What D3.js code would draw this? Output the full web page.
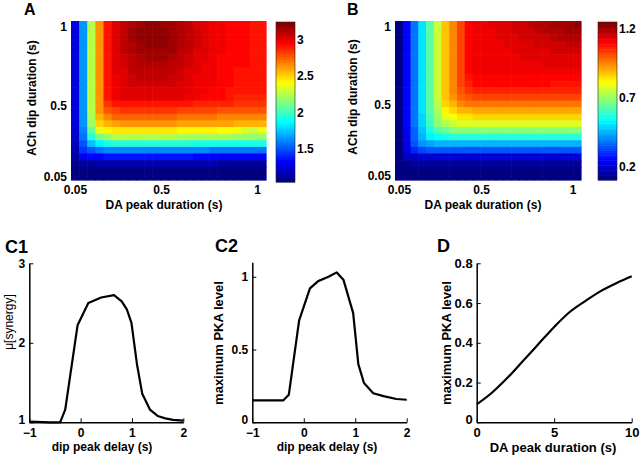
<!DOCTYPE html>
<html>
<head>
<meta charset="utf-8">
<script src="https://cdn.jsdelivr.net/npm/d3@7"></script>
<style>
  body { margin: 0; background: #fff; }
  svg { display: block; font-family: "Liberation Sans", Arial, sans-serif; font-weight: bold; }
</style>
</head>
<body>
<script>
// heatmap rows: top row = ACh dip 1 s, bottom row = 0.05 s; columns: DA peak 0.05 s .. 1 s
const gridTicks = [0.05, 0.5, 1];

const synergyGrid = [
  [1.25,1.65,2.25,2.65,2.9,3.02,3.07,3.13,3.16,3.18,3.18,3.17,3.14,3.11,3.07,3.03,3.01,2.99,2.97,2.96,2.94,2.94,2.93,2.93],
  [1.25,1.65,2.25,2.65,2.9,3.02,3.08,3.14,3.18,3.2,3.2,3.19,3.16,3.12,3.08,3.04,3.01,2.99,2.97,2.96,2.94,2.94,2.93,2.93],
  [1.25,1.65,2.25,2.65,2.9,3.02,3.08,3.14,3.18,3.2,3.2,3.19,3.16,3.12,3.08,3.04,3.01,2.99,2.97,2.96,2.94,2.94,2.93,2.93],
  [1.25,1.65,2.25,2.65,2.9,3.02,3.08,3.13,3.17,3.19,3.19,3.18,3.15,3.11,3.08,3.04,3.01,2.99,2.97,2.96,2.94,2.94,2.93,2.93],
  [1.25,1.65,2.25,2.65,2.9,3.01,3.07,3.12,3.15,3.17,3.17,3.16,3.14,3.1,3.07,3.03,3.0,2.99,2.97,2.96,2.94,2.94,2.93,2.93],
  [1.25,1.65,2.25,2.65,2.9,3.01,3.06,3.1,3.13,3.14,3.14,3.14,3.12,3.08,3.05,3.02,3.0,2.98,2.96,2.96,2.94,2.94,2.93,2.93],
  [1.25,1.65,2.25,2.65,2.9,3.0,3.04,3.08,3.11,3.12,3.12,3.11,3.1,3.07,3.04,3.01,2.99,2.98,2.96,2.96,2.94,2.94,2.93,2.93],
  [1.25,1.65,2.25,2.65,2.9,3.0,3.03,3.07,3.09,3.1,3.1,3.09,3.08,3.05,3.03,3.0,2.98,2.97,2.96,2.95,2.92,2.92,2.92,2.92],
  [1.25,1.65,2.25,2.65,2.9,2.99,3.02,3.05,3.07,3.07,3.07,3.07,3.06,3.04,3.02,2.99,2.98,2.97,2.96,2.95,2.92,2.92,2.92,2.92],
  [1.25,1.65,2.25,2.65,2.9,2.99,3.01,3.04,3.05,3.05,3.05,3.05,3.04,3.02,3.01,2.99,2.97,2.97,2.96,2.94,2.92,2.92,2.92,2.92],
  [1.25,1.65,2.25,2.65,2.9,2.99,3.0,3.02,3.03,3.03,3.03,3.03,3.02,3.01,3.0,2.98,2.97,2.96,2.95,2.93,2.9,2.9,2.9,2.9],
  [1.25,1.65,2.25,2.65,2.9,2.98,3.0,3.01,3.01,3.02,3.02,3.02,3.01,3.0,2.99,2.98,2.96,2.96,2.95,2.92,2.88,2.88,2.88,2.88],
  [1.25,1.65,2.25,2.65,2.85,2.9,2.91,2.92,2.92,2.92,2.92,2.92,2.91,2.9,2.9,2.89,2.88,2.88,2.87,2.87,2.86,2.86,2.85,2.85],
  [1.25,1.65,2.25,2.63,2.78,2.82,2.83,2.84,2.84,2.84,2.84,2.84,2.83,2.82,2.82,2.81,2.8,2.8,2.79,2.79,2.78,2.78,2.78,2.78],
  [1.25,1.65,2.24,2.58,2.69,2.73,2.74,2.74,2.74,2.74,2.74,2.74,2.73,2.72,2.72,2.71,2.7,2.7,2.69,2.69,2.68,2.68,2.68,2.68],
  [1.25,1.64,2.2,2.5,2.58,2.62,2.64,2.64,2.64,2.64,2.64,2.63,2.63,2.62,2.62,2.61,2.6,2.6,2.59,2.59,2.58,2.58,2.58,2.58],
  [1.24,1.62,2.1,2.35,2.42,2.45,2.46,2.46,2.46,2.46,2.46,2.45,2.45,2.44,2.44,2.43,2.42,2.42,2.41,2.41,2.4,2.32,2.3,2.38],
  [1.23,1.58,1.95,2.12,2.2,2.25,2.26,2.26,2.26,2.26,2.26,2.25,2.25,2.24,2.24,2.23,2.22,2.22,2.21,2.21,2.2,2.2,2.18,2.2],
  [1.2,1.5,1.75,1.85,1.9,1.95,1.96,1.96,1.96,1.96,1.96,1.95,1.95,1.94,1.94,1.93,1.92,1.92,1.91,1.91,1.9,1.9,1.9,1.9],
  [1.17,1.42,1.52,1.57,1.59,1.6,1.61,1.61,1.61,1.61,1.61,1.6,1.6,1.6,1.6,1.59,1.59,1.58,1.58,1.58,1.57,1.57,1.57,1.57],
  [1.13,1.3,1.33,1.34,1.35,1.35,1.36,1.36,1.36,1.36,1.36,1.35,1.35,1.35,1.35,1.34,1.34,1.34,1.34,1.33,1.33,1.33,1.33,1.33],
  [1.08,1.13,1.14,1.15,1.15,1.15,1.16,1.16,1.16,1.16,1.16,1.15,1.15,1.15,1.15,1.15,1.15,1.15,1.14,1.14,1.14,1.14,1.14,1.14],
  [1.04,1.06,1.06,1.06,1.06,1.06,1.07,1.07,1.07,1.07,1.07,1.06,1.06,1.06,1.06,1.06,1.06,1.06,1.06,1.06,1.06,1.06,1.06,1.06],
  [1.03,1.04,1.04,1.04,1.04,1.04,1.04,1.04,1.04,1.04,1.04,1.04,1.04,1.04,1.04,1.04,1.04,1.04,1.04,1.04,1.04,1.04,1.04,1.04]
];

const pkaGrid = [
  [0.12,0.25,0.39,0.5,0.64,0.75,0.89,0.96,1.03,1.09,1.12,1.12,1.13,1.13,1.14,1.15,1.16,1.17,1.18,1.19,1.2,1.2,1.21,1.22],
  [0.12,0.25,0.39,0.5,0.64,0.75,0.89,0.96,1.03,1.09,1.12,1.12,1.12,1.13,1.14,1.15,1.15,1.16,1.17,1.18,1.18,1.19,1.2,1.2],
  [0.12,0.25,0.39,0.5,0.64,0.75,0.89,0.96,1.03,1.09,1.11,1.12,1.12,1.13,1.13,1.14,1.15,1.15,1.16,1.16,1.17,1.18,1.18,1.19],
  [0.12,0.25,0.39,0.5,0.64,0.75,0.89,0.96,1.03,1.09,1.11,1.12,1.12,1.12,1.13,1.13,1.14,1.14,1.15,1.15,1.16,1.16,1.17,1.17],
  [0.12,0.25,0.39,0.5,0.64,0.75,0.89,0.96,1.03,1.09,1.11,1.11,1.12,1.12,1.12,1.13,1.13,1.14,1.14,1.14,1.15,1.15,1.15,1.16],
  [0.12,0.25,0.39,0.5,0.64,0.75,0.89,0.96,1.03,1.09,1.11,1.11,1.11,1.12,1.12,1.12,1.13,1.13,1.13,1.13,1.14,1.14,1.14,1.14],
  [0.12,0.25,0.39,0.5,0.64,0.75,0.89,0.96,1.03,1.09,1.11,1.11,1.11,1.11,1.12,1.12,1.12,1.12,1.12,1.13,1.13,1.13,1.13,1.13],
  [0.12,0.25,0.39,0.5,0.64,0.75,0.89,0.96,1.03,1.09,1.11,1.11,1.11,1.11,1.11,1.11,1.12,1.12,1.12,1.12,1.12,1.12,1.12,1.12],
  [0.12,0.25,0.39,0.5,0.64,0.75,0.89,0.96,1.03,1.08,1.1,1.1,1.1,1.1,1.1,1.1,1.1,1.1,1.1,1.1,1.1,1.1,1.1,1.1],
  [0.12,0.25,0.39,0.5,0.64,0.75,0.89,0.96,1.02,1.06,1.09,1.09,1.09,1.09,1.09,1.09,1.09,1.09,1.09,1.09,1.08,1.08,1.08,1.08],
  [0.12,0.25,0.39,0.5,0.64,0.75,0.89,0.95,1.01,1.04,1.07,1.07,1.07,1.07,1.07,1.07,1.07,1.07,1.07,1.07,1.07,1.07,1.07,1.07],
  [0.12,0.25,0.39,0.5,0.64,0.75,0.88,0.94,0.99,1.01,1.03,1.03,1.03,1.03,1.03,1.03,1.03,1.03,1.03,1.03,1.03,1.03,1.03,1.03],
  [0.12,0.25,0.39,0.5,0.63,0.74,0.86,0.91,0.95,0.97,0.98,0.98,0.98,0.98,0.98,0.98,0.98,0.98,0.98,0.98,0.98,0.98,0.98,0.98],
  [0.12,0.25,0.39,0.5,0.63,0.73,0.83,0.87,0.9,0.91,0.92,0.92,0.92,0.92,0.92,0.92,0.92,0.92,0.92,0.92,0.92,0.92,0.92,0.92],
  [0.12,0.25,0.38,0.49,0.62,0.71,0.79,0.82,0.84,0.85,0.86,0.86,0.86,0.86,0.86,0.86,0.86,0.86,0.86,0.86,0.86,0.86,0.86,0.86],
  [0.12,0.25,0.38,0.49,0.6,0.68,0.73,0.75,0.77,0.78,0.78,0.78,0.78,0.78,0.78,0.78,0.78,0.78,0.78,0.78,0.78,0.78,0.78,0.78],
  [0.12,0.24,0.37,0.47,0.57,0.63,0.66,0.68,0.69,0.69,0.69,0.69,0.69,0.69,0.69,0.69,0.69,0.69,0.69,0.69,0.69,0.69,0.69,0.69],
  [0.12,0.24,0.36,0.45,0.52,0.55,0.57,0.58,0.58,0.58,0.58,0.58,0.58,0.58,0.58,0.58,0.58,0.58,0.58,0.58,0.58,0.58,0.58,0.58],
  [0.12,0.23,0.34,0.41,0.44,0.45,0.46,0.46,0.46,0.46,0.46,0.46,0.46,0.46,0.46,0.46,0.46,0.46,0.46,0.46,0.46,0.46,0.46,0.46],
  [0.12,0.22,0.3,0.33,0.34,0.35,0.35,0.35,0.35,0.35,0.35,0.35,0.35,0.35,0.35,0.35,0.35,0.35,0.35,0.35,0.35,0.35,0.35,0.35],
  [0.11,0.18,0.19,0.2,0.2,0.2,0.2,0.2,0.2,0.2,0.2,0.2,0.2,0.2,0.2,0.2,0.2,0.2,0.2,0.2,0.2,0.2,0.2,0.2],
  [0.11,0.14,0.15,0.15,0.15,0.15,0.15,0.15,0.15,0.15,0.15,0.15,0.15,0.15,0.15,0.15,0.15,0.15,0.15,0.15,0.15,0.15,0.15,0.15],
  [0.11,0.12,0.12,0.12,0.12,0.12,0.12,0.12,0.12,0.12,0.12,0.12,0.12,0.12,0.12,0.12,0.12,0.12,0.12,0.12,0.12,0.12,0.12,0.12],
  [0.11,0.11,0.11,0.11,0.11,0.11,0.11,0.11,0.11,0.11,0.11,0.11,0.11,0.11,0.11,0.11,0.11,0.11,0.11,0.11,0.11,0.11,0.11,0.11]
];

const synergyBarTicks = [1.5, 2, 2.5, 3];
const pkaBarTicks = [0.2, 0.7, 1.2];

const synergyDelays = [-1, -0.6, -0.4, -0.3, -0.06, 0.15, 0.4, 0.65, 0.8, 0.9, 0.99, 1.1, 1.2, 1.35, 1.5, 1.65, 1.8, 2];
const synergyByDelay = [1.01, 1.0, 1.0, 1.16, 2.22, 2.5, 2.57, 2.6, 2.52, 2.42, 2.25, 1.72, 1.36, 1.16, 1.08, 1.05, 1.03, 1.02];

const pkaDelays = [-1, -0.4, -0.29, -0.09, 0.12, 0.28, 0.48, 0.64, 0.77, 0.96, 1.06, 1.17, 1.35, 1.55, 1.8, 2];
const pkaByDelay = [0.15, 0.15, 0.19, 0.7, 0.92, 0.97, 1.0, 1.03, 0.98, 0.75, 0.4, 0.27, 0.2, 0.18, 0.16, 0.155];

const peakDurations = [0, 1, 2, 3, 4, 5, 6, 7, 8, 9, 10];
const pkaByDuration = [0.09, 0.15, 0.225, 0.31, 0.395, 0.48, 0.555, 0.61, 0.66, 0.70, 0.735];

function jet(t) {
  t = Math.min(63, Math.max(0, Math.floor(t * 64))) / 63;
  const c = v => Math.round(255 * Math.max(0, Math.min(1, v)));
  return `rgb(${c(Math.min(4 * t - 1.5, -4 * t + 4.5))},${c(Math.min(4 * t - 0.5, -4 * t + 3.5))},${c(Math.min(4 * t + 0.5, -4 * t + 2.5))})`;
}

const svg = d3.select('body')
  .append('svg')
  .attr('width', 640)
  .attr('height', 458);

function styleAxis(g, size) {
  g.attr('font-family', null).attr('font-size', size);
  g.selectAll('text').attr('fill', '#000');
  g.selectAll('line').attr('stroke', '#000');
  g.select('.domain').attr('stroke', '#000');
}

function createHeatmap(grid, box, tickX, tickY, bar) {
  let color = d3.scaleSequential(jet).domain(bar.domain).clamp(true);
  let n = grid.length;
  let x = d3.scaleBand().domain(d3.range(n)).range([box.x0, box.x1]);
  let y = d3.scaleBand().domain(d3.range(n)).range([box.y1, box.y0]);

  let cells = [];
  grid.forEach((row, r) => row.forEach((v, c) => cells.push({ c: c, r: n - 1 - r, v: v })));

  svg.append('g')
    .selectAll('rect')
    .data(cells)
    .join('rect')
    .attr('x', d => x(d.c))
    .attr('y', d => y(d.r))
    .attr('width', x.bandwidth() + 0.6)
    .attr('height', y.bandwidth() + 0.6)
    .attr('fill', d => color(d.v));

  let xt = d3.scaleLinear().domain([0.05, 1]).range(tickX);
  let yt = d3.scaleLinear().domain([0.05, 1]).range(tickY);

  svg.append('g')
    .attr('transform', `translate(0,${box.y1})`)
    .call(d3.axisBottom(xt).tickValues(gridTicks).tickFormat(d3.format('')).tickSize(0).tickPadding(5))
    .call(g => g.select('.domain').remove())
    .call(g => styleAxis(g, 12));

  svg.append('g')
    .attr('transform', `translate(${box.x0},0)`)
    .call(d3.axisLeft(yt).tickValues(gridTicks).tickFormat(d3.format('')).tickSize(0).tickPadding(4))
    .call(g => g.select('.domain').remove())
    .call(g => styleAxis(g, 12));

  // colorbar
  let b = d3.scaleLinear().domain(bar.domain).range([bar.y1, bar.y0]);
  let steps = d3.range(64).map(k => bar.domain[0] + (k + 0.5) * (bar.domain[1] - bar.domain[0]) / 64);
  let h = (bar.y1 - bar.y0) / 64;
  svg.append('g')
    .selectAll('rect')
    .data(steps)
    .join('rect')
    .attr('x', bar.x0)
    .attr('y', d => b(d) - h / 2)
    .attr('width', bar.x1 - bar.x0)
    .attr('height', h + 0.5)
    .attr('fill', d => color(d));

  svg.append('rect')
    .attr('x', bar.x0).attr('y', bar.y0)
    .attr('width', bar.x1 - bar.x0).attr('height', bar.y1 - bar.y0)
    .attr('fill', 'none').attr('stroke', '#222').attr('stroke-width', 0.6);

  svg.append('g')
    .attr('transform', `translate(${bar.x1},0)`)
    .call(d3.axisRight(b).tickValues(bar.ticks).tickFormat(d3.format('')).tickSize(0).tickPadding(2))
    .call(g => g.select('.domain').remove())
    .call(g => styleAxis(g, 12));
}

function createLinePlot(xs, ys, p) {
  let x = d3.scaleLinear().domain(p.xDomain).range([p.x0, p.x1]);
  let y = d3.scaleLinear().domain(p.yDomain).range([p.y0, p.y1]);

  svg.append('g')
    .attr('transform', `translate(0,${p.y0})`)
    .call(d3.axisBottom(x).tickValues(p.xTicks).tickFormat(d3.format('')).tickSizeInner(-4).tickSizeOuter(0).tickPadding(p.pad))
    .call(g => styleAxis(g, p.font))
    .call(g => g.select('.domain').attr('stroke-width', 1.5));

  svg.append('g')
    .attr('transform', `translate(${p.x0},0)`)
    .call(d3.axisLeft(y).tickValues(p.yTicks).tickFormat(d3.format('')).tickSizeInner(-4).tickSizeOuter(0).tickPadding(4))
    .call(g => styleAxis(g, p.font))
    .call(g => g.select('.domain').attr('stroke-width', 1.5))
    .call(g => g.selectAll('.tick text').filter(d => d === p.yDomain[0]).attr('dy', '0.1em'));

  let line = d3.line()
    .x((d, i) => x(xs[i]))
    .y(d => y(d))
    .curve(p.smooth ? d3.curveMonotoneX : d3.curveLinear);

  svg.append('path')
    .datum(ys)
    .attr('d', line)
    .attr('fill', 'none')
    .attr('stroke', '#000')
    .attr('stroke-width', 2.2)
    .attr('stroke-linejoin', 'round');
}

function addText(txt, x, y, size, opts) {
  opts = opts || {};
  let t = svg.append('text')
    .attr('x', x)
    .attr('y', y)
    .attr('font-size', size)
    .attr('text-anchor', opts.anchor || 'start')
    .text(txt);
  if (opts.rotate) t.attr('transform', `rotate(-90,${x},${y})`);
  if (opts.normal) t.attr('font-weight', 'normal');
  return t;
}

createHeatmap(synergyGrid, { x0: 71, x1: 266, y0: 21, y1: 180 }, [75, 257], [177, 26.5],
  { x0: 276, x1: 295, y0: 22, y1: 182, domain: [1.04, 3.24], ticks: synergyBarTicks });
createHeatmap(pkaGrid, { x0: 395, x1: 581, y0: 21, y1: 180 }, [399, 572.5], [175.5, 26.7],
  { x0: 598, x1: 617, y0: 22, y1: 180, domain: [0.106, 1.25], ticks: pkaBarTicks });

createLinePlot(synergyDelays, synergyByDelay, { x0: 29.3, x1: 183.3, y0: 422.3, y1: 263.3,
  xDomain: [-1, 2], yDomain: [1, 3], xTicks: [-1, 0, 1, 2], yTicks: [1, 2, 3], font: 12, pad: 6 });
createLinePlot(pkaDelays, pkaByDelay, { x0: 252.3, x1: 406.7, y0: 422.3, y1: 262.2,
  xDomain: [-1, 2], yDomain: [0, 1.1], xTicks: [-1, 0, 1, 2], yTicks: [0, 0.5, 1], font: 12, pad: 6 });
createLinePlot(peakDurations, pkaByDuration, { x0: 476.7, x1: 631.7, y0: 422.3, y1: 263.3,
  xDomain: [0, 10], yDomain: [0, 0.8], xTicks: [0, 5, 10], yTicks: [0, 0.2, 0.4, 0.6, 0.8], font: 13, pad: 5, smooth: true });

addText('A', 24, 15, 16);
addText('B', 347, 15, 16);
addText('C1', 5, 253, 18);
addText('C2', 215, 252, 18);
addText('D', 437, 252, 18);

addText('DA peak duration (s)', 164, 209, 12, { anchor: 'middle' });
addText('DA peak duration (s)', 483, 209, 12, { anchor: 'middle' });
addText('ACh dip duration (s)', 36, 98, 12, { anchor: 'middle', rotate: true });
addText('ACh dip duration (s)', 357, 97, 12, { anchor: 'middle', rotate: true });

addText('dip peak delay (s)', 102, 451, 12, { anchor: 'middle' });
addText('dip peak delay (s)', 327, 451, 12, { anchor: 'middle' });
addText('DA peak duration (s)', 553, 452, 13, { anchor: 'middle' });
addText('\u03bc[synergy]', 13, 322, 12, { anchor: 'middle', rotate: true, normal: true });
addText('maximum PKA level', 223, 343, 13, { anchor: 'middle', rotate: true });
addText('maximum PKA level', 451, 343, 13, { anchor: 'middle', rotate: true });
</script>
</body>
</html>
